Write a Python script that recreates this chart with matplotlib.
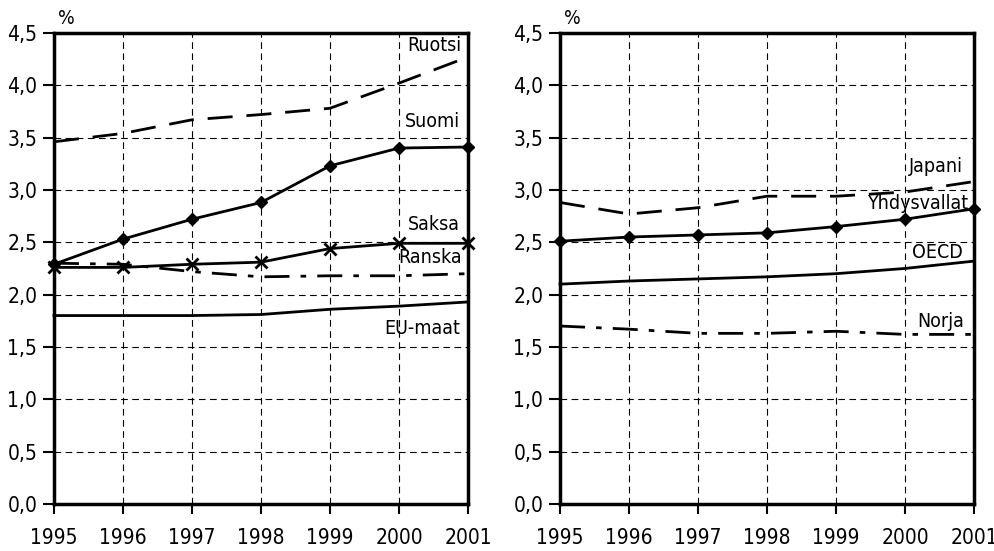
import numpy as np
import matplotlib.pyplot as plt
from matplotlib.ticker import FuncFormatter

plt.rcParams['font.family'] = ['DejaVu Sans']
plt.rcParams['font.stretch'] = 'condensed'

vuodet = [1995, 1996, 1997, 1998, 1999, 2000, 2001]

# Vasen kuva
ruotsi = [3.46, 3.54, 3.67, 3.72, 3.78, 4.02, 4.27]
suomi = [2.29, 2.53, 2.72, 2.88, 3.23, 3.40, 3.41]
saksa = [2.26, 2.26, 2.29, 2.31, 2.44, 2.49, 2.49]
ranska = [2.30, 2.29, 2.22, 2.17, 2.18, 2.18, 2.20]
eu_maat = [1.80, 1.80, 1.80, 1.81, 1.86, 1.89, 1.93]

# Oikea kuva
japani = [2.88, 2.77, 2.83, 2.94, 2.94, 2.98, 3.08]
yhdysvallat = [2.51, 2.55, 2.57, 2.59, 2.65, 2.72, 2.82]
oecd = [2.10, 2.13, 2.15, 2.17, 2.20, 2.25, 2.32]
norja = [1.70, 1.67, 1.63, 1.63, 1.65, 1.62, 1.62]

fig = plt.figure(figsize=(9.94, 5.51), dpi=100)
ax1 = fig.add_axes([0.0543, 0.0853, 0.4165, 0.855])
ax2 = fig.add_axes([0.5634, 0.0853, 0.4165, 0.855])

pilkku = FuncFormatter(lambda v, p: f'{v:.1f}'.replace('.', ','))


def muotoile(ax):
    ax.set_xlim(1995, 2001)
    ax.set_ylim(0, 4.5)
    ax.set_xticks(vuodet)
    ax.set_yticks(np.arange(0, 4.51, 0.5))
    ax.yaxis.set_major_formatter(pilkku)
    ax.grid(True, color='black', linestyle=(0, (6, 4)), linewidth=0.8)
    for s in ax.spines.values():
        s.set_linewidth(2.5)
    ax.tick_params(axis='y', direction='out', length=8, width=1.5, labelsize=15, pad=4)
    ax.tick_params(axis='x', direction='out', length=7, width=1.5, labelsize=15, pad=10)
    ax.text(0.01, 1.01, '%', transform=ax.transAxes, fontsize=14, ha='left', va='bottom')


muotoile(ax1)
muotoile(ax2)

lw = 2
ax1.plot(vuodet, ruotsi, color='black', lw=lw, linestyle=(0, (9, 5)), clip_on=False)
ax1.plot(vuodet, suomi, color='black', lw=lw, marker='D', markersize=6, clip_on=False, zorder=5)
ax1.plot(vuodet, saksa, color='black', lw=lw, marker='x', markersize=8, mew=2, clip_on=False, zorder=5)
ax1.plot(vuodet, ranska, color='black', lw=lw, linestyle=(0, (9, 4, 2, 4)), clip_on=False)
ax1.plot(vuodet, eu_maat, color='black', lw=lw, clip_on=False)

ax2.plot(vuodet, japani, color='black', lw=lw, linestyle=(0, (9, 5)), clip_on=False)
ax2.plot(vuodet, yhdysvallat, color='black', lw=lw, marker='D', markersize=6, clip_on=False, zorder=5)
ax2.plot(vuodet, oecd, color='black', lw=lw, clip_on=False)
ax2.plot(vuodet, norja, color='black', lw=lw, linestyle=(0, (9, 4, 2, 4)), clip_on=False)

fs = 14
ax1.text(2000.91, 4.38, 'Ruotsi', ha='right', va='center', fontsize=fs)
ax1.text(2000.88, 3.65, 'Suomi', ha='right', va='center', fontsize=fs)
ax1.text(2000.88, 2.67, 'Saksa', ha='right', va='center', fontsize=fs)
ax1.text(2000.91, 2.35, 'Ranska', ha='right', va='center', fontsize=fs)
ax1.text(2000.88, 1.68, 'EU-maat', ha='right', va='center', fontsize=fs)

ax2.text(2000.84, 3.22, 'Japani', ha='right', va='center', fontsize=fs)
ax2.text(2000.91, 2.87, 'Yhdysvallat', ha='right', va='center', fontsize=fs)
ax2.text(2000.84, 2.40, 'OECD', ha='right', va='center', fontsize=fs)
ax2.text(2000.86, 1.74, 'Norja', ha='right', va='center', fontsize=fs)

fig.savefig('out.png', dpi=100)
